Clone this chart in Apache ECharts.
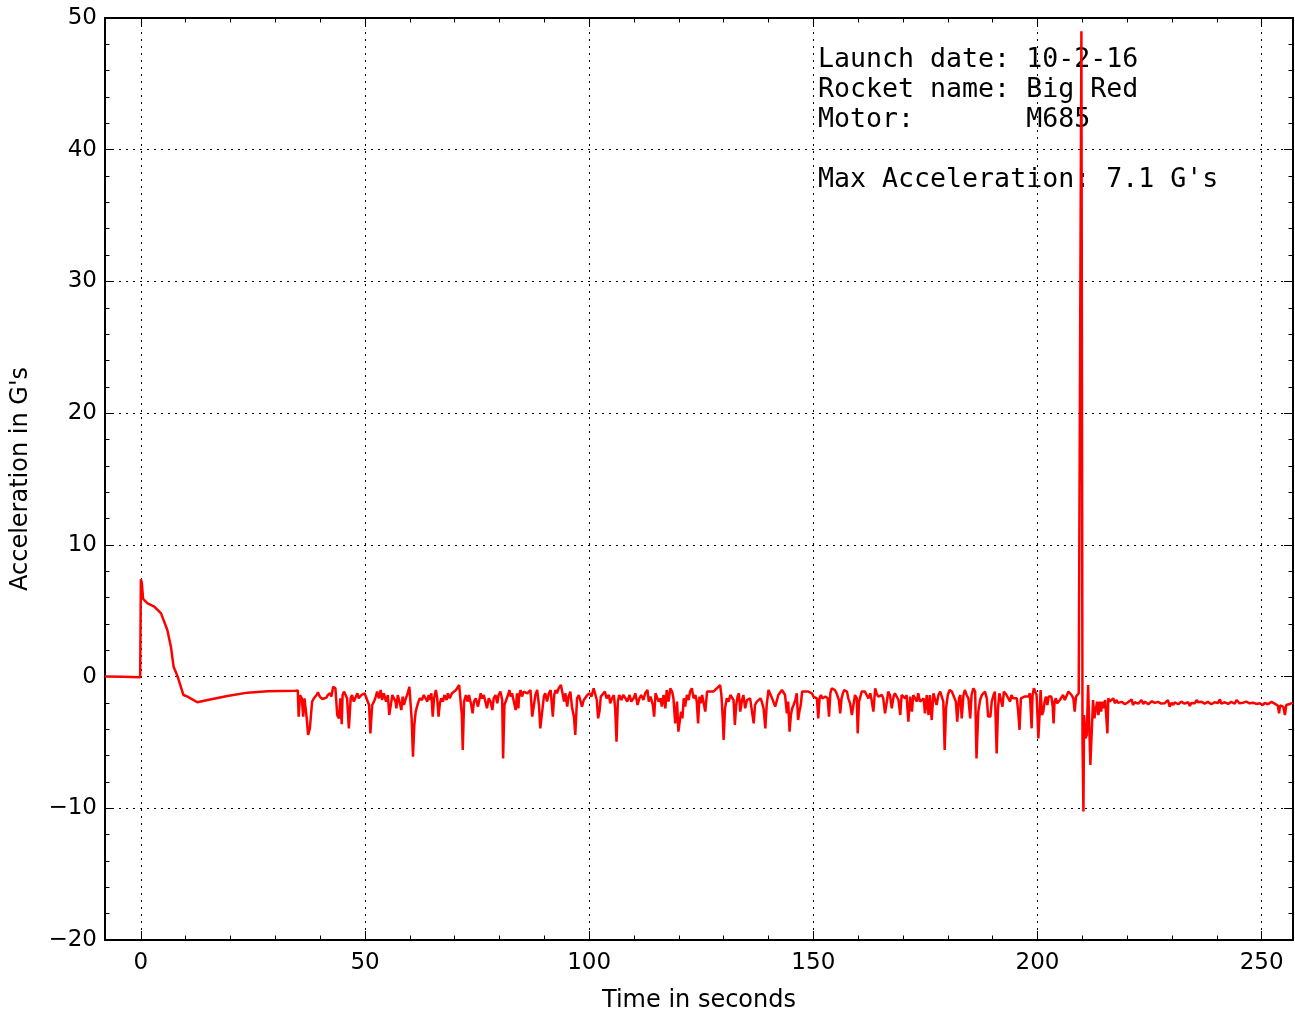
<!DOCTYPE html>
<html>
<head>
<meta charset="utf-8">
<script src="https://cdn.jsdelivr.net/npm/echarts@6/dist/echarts.min.js"></script>
<style>html,body{margin:0;padding:0;background:#fff}#chart{width:1295px;height:1011px}</style>
</head>
<body>
<div id="chart"></div>
<script>
// ---- Data (time in s, acceleration in G's) ----
const padBoost = [[-8,0],[-4,-0.02],[-0.15,-0.05],[0,7.39],[0.2,7.15],[0.5,5.9],[1.5,5.56],[3.0,5.31],[4.5,4.8],[5.9,3.54],[6.7,2.27],[7.3,0.75],[8.2,0],[9.5,-1.4],[10.4,-1.52],[12.6,-1.95],[14.9,-1.78],[19.3,-1.47],[23.8,-1.22],[28.2,-1.12],[34.5,-1.07]];
const flightA = [[35.0,-1.05],[35.2,-3.04],[35.5,-1.40],[35.9,-1.65],[36.2,-3.04],[36.5,-1.65],[37.0,-3.17],[37.3,-4.43],[37.7,-3.93],[38.2,-1.90],[38.6,-1.65],[39.2,-1.40],[39.5,-1.19],[39.9,-1.52],[40.5,-1.70],[40.8,-1.70],[41.4,-1.60],[41.7,-1.40],[42.2,-1.27],[42.5,-1.52],[42.9,-0.77],[43.4,-0.89],[43.8,-2.92],[44.2,-3.17],[44.5,-1.65],[44.8,-3.62],[45.0,-1.40],[45.3,-1.14],[45.7,-1.02],[46.0,-1.65],[46.4,-3.93],[46.8,-1.65],[47.1,-1.40],[47.5,-1.90],[47.9,-1.78],[48.3,-1.27],[48.6,-1.65],[49.2,-1.40],[49.6,-1.52],[49.9,-1.27],[50.3,-1.27],[50.9,-2.16],[51.2,-4.31],[51.6,-2.16],[52.0,-1.90],[52.4,-1.52],[52.7,-1.14],[53.1,-1.65],[53.5,-1.02],[53.8,-1.78],[54.2,-1.27],[54.7,-1.90],[55.1,-1.40],[55.4,-2.92],[55.7,-2.28],[56.1,-1.40],[56.4,-1.27],[56.8,-1.90],[57.0,-2.41],[57.3,-1.40],[57.6,-1.78],[58.1,-2.54],[58.4,-1.52],[58.7,-2.16],[59.1,-1.65],[59.4,-1.40],[59.9,-0.77],[60.2,-0.64],[60.4,-3.17],[60.7,-6.08],[61.0,-3.67],[61.3,-2.66],[61.8,-2.03],[62.2,-1.65],[62.7,-1.78],[63.1,-1.40],[63.5,-1.27],[63.9,-1.90],[64.2,-1.40],[64.5,-1.78],[64.8,-1.27],[65.1,-3.04],[65.4,-1.65],[65.8,-1.02],[66.1,-1.65],[66.4,-3.04],[66.7,-2.03],[67.0,-1.65],[67.4,-1.90],[67.7,-1.40],[68.2,-1.78],[68.5,-1.27],[68.9,-1.65],[69.4,-1.27],[69.8,-1.14],[70.3,-1.02],[70.6,-1.14],[71.0,-0.64],[71.3,-0.51],[71.6,-2.92],[71.8,-5.57],[72.1,-1.90],[72.5,-1.40],[72.9,-1.90],[73.2,-1.40],[73.7,-2.16],[74.0,-2.79],[74.3,-1.90],[74.7,-1.65],[75.2,-2.28]];
const flightB = [[75.8,-1.27],[76.1,-1.65],[76.5,-1.40],[76.9,-1.27],[77.2,-2.41],[77.6,-1.65],[78.0,-1.90],[78.4,-2.54],[78.7,-1.65],[79.1,-1.40],[79.5,-2.03],[79.8,-1.40],[80.2,-1.14],[80.6,-1.78],[80.8,-6.21],[81.1,-2.16],[81.5,-1.78],[81.9,-1.40],[82.2,-1.02],[82.5,-1.52],[82.8,-1.27],[83.2,-1.40],[83.6,-2.54],[83.9,-1.27],[84.2,-2.41],[84.4,-1.40],[84.7,-1.02],[85.0,-1.52],[85.4,-1.14],[85.8,-1.02],[86.2,-1.27],[86.5,-1.14],[86.9,-1.02],[87.3,-3.04],[87.6,-3.04],[88.0,-1.40],[88.4,-1.02],[88.8,-2.16],[89.1,-3.93],[89.5,-3.80],[89.9,-1.52],[90.2,-1.27],[90.6,-1.90],[91.0,-1.27],[91.4,-1.02],[91.9,-3.04],[92.2,-1.40],[92.5,-1.02],[92.8,-1.27],[93.2,-0.89],[93.7,-0.64],[94.1,-0.77],[94.4,-1.90],[94.7,-1.27],[95.1,-2.28],[95.4,-1.52],[95.8,-1.14],[96.2,-2.41],[96.6,-3.04],[96.9,-4.43],[97.3,-1.65],[97.7,-1.40],[98.0,-1.27],[98.4,-2.28],[98.8,-1.78],[99.2,-1.65],[99.6,-1.40],[100.1,-1.27],[100.5,-1.52],[101.0,-0.89],[101.4,-0.77],[101.7,-1.78],[102.0,-3.17],[102.3,-2.66],[102.6,-1.52],[103.0,-1.65],[103.5,-1.14],[103.9,-1.65],[104.4,-1.40],[104.7,-2.03],[105.1,-1.65],[105.5,-1.40],[105.8,-2.41],[106.1,-4.94],[106.4,-1.90],[106.7,-1.40],[107.2,-1.78],[107.6,-1.40],[108.1,-1.65],[108.5,-1.90],[109.0,-1.40],[109.4,-1.90],[109.9,-1.65],[110.3,-1.27],[110.8,-2.16],[111.2,-1.65],[111.6,-1.40],[112.1,-1.78],[112.5,-1.27],[113.0,-1.02],[113.3,-1.90],[113.7,-1.52],[114.2,-2.16],[114.5,-3.04],[114.8,-1.27],[115.1,-1.14],[115.5,-1.90],[115.9,-1.65]];
const flightC = [[116.2,-2.28],[116.6,-1.40],[117.0,-2.41],[117.3,-1.02],[117.7,-1.90],[118.1,-0.89],[118.5,-1.14],[118.8,-1.65],[119.2,-3.55],[119.6,-1.90],[119.9,-4.18],[120.2,-4.31],[120.5,-2.66],[120.8,-3.17],[121.1,-1.65],[121.4,-2.28],[121.8,-1.40],[122.2,-1.78],[122.5,-1.14],[122.9,-0.89],[123.3,-1.65],[123.7,-1.40],[124.0,-1.90],[124.3,-3.55],[124.6,-1.52],[124.9,-2.03],[125.2,-1.40],[125.5,-1.40],[125.9,-2.66],[126.3,-1.14],[126.6,-1.27],[127.0,-1.14],[127.4,-1.02],[127.7,-1.14],[128.1,-1.02],[128.5,-0.89],[128.9,-0.77],[129.2,-0.64],[129.5,-1.40],[129.8,-3.17],[130.0,-4.81],[130.3,-2.41],[130.7,-1.65],[131.1,-1.90],[131.5,-1.40],[131.8,-1.27],[132.2,-1.78],[132.5,-3.67],[132.8,-2.16],[133.1,-1.52],[133.4,-1.27],[133.7,-2.66],[134.1,-1.78],[134.4,-1.40],[134.8,-2.41],[135.2,-1.78],[135.6,-1.90],[135.9,-1.65],[136.3,-1.52],[136.7,-3.55],[137.0,-2.16],[137.4,-1.90],[137.8,-1.78],[138.2,-1.65],[138.5,-1.90],[138.9,-2.41],[139.3,-3.93],[139.6,-2.16],[140.0,-1.02],[140.4,-1.14],[140.8,-1.65],[141.1,-1.65],[141.5,-2.28],[141.9,-2.28],[142.2,-1.40],[142.6,-1.27],[143.0,-1.02],[143.4,-0.89],[143.7,-1.40],[144.1,-2.79],[144.4,-1.90],[144.7,-4.18],[145.0,-2.92],[145.3,-2.41],[145.6,-2.16],[146.0,-1.78],[146.3,-1.27],[146.6,-3.30],[146.9,-2.66],[147.2,-2.16],[147.5,-1.14],[147.8,-1.27],[148.2,-1.14],[148.5,-1.02],[148.9,-1.14],[149.3,-1.02],[149.7,-1.27],[150.0,-1.52],[150.4,-1.65],[150.8,-1.65],[151.1,-3.17],[151.4,-1.65],[151.7,-1.40],[152.0,-1.65],[152.3,-1.52],[152.7,-1.52],[153.2,-1.65],[153.5,-3.04],[153.8,-1.27],[154.1,-0.89],[154.3,-0.77],[154.8,-1.02],[155.2,-1.27],[155.7,-1.78],[156.0,-2.79],[156.3,-1.65],[156.6,-1.27],[156.9,-1.02]];
const flightD = [[157.5,-1.14],[157.8,-1.65],[158.2,-2.03],[158.6,-2.92],[158.9,-2.92],[159.3,-1.40],[159.7,-1.65],[159.9,-4.31],[160.2,-1.90],[160.5,-1.52],[160.8,-1.14],[161.2,-1.02],[161.5,-1.14],[161.9,-1.40],[162.3,-1.65],[162.7,-1.27],[163.0,-1.78],[163.4,-2.66],[163.8,-0.89],[164.1,-1.27],[164.5,-1.52],[164.9,-1.65],[165.3,-1.40],[165.6,-1.65],[166.0,-2.79],[166.4,-1.90],[166.7,-1.14],[167.1,-1.40],[167.5,-2.41],[167.9,-1.52],[168.2,-1.27],[168.6,-1.40],[169.0,-1.78],[169.4,-2.92],[169.7,-1.40],[170.1,-1.40],[170.5,-1.65],[170.8,-1.40],[171.2,-3.42],[171.6,-1.52],[172.0,-2.66],[172.3,-1.40],[172.7,-1.52],[173.1,-1.90],[173.4,-1.27],[173.8,-1.90],[174.2,-2.03],[174.6,-1.65],[174.9,-2.79],[175.3,-1.40],[175.7,-2.92],[176.0,-1.40],[176.4,-3.30],[176.8,-1.27],[177.2,-1.40],[177.5,-2.16],[177.9,-1.40],[178.3,-1.14],[178.6,-1.02],[179.0,-1.90],[179.3,-5.57],[179.6,-2.41],[180.0,-1.40],[180.4,-1.02],[180.9,-1.14],[181.3,-1.27],[181.8,-1.90],[182.1,-3.42],[182.5,-1.65],[182.8,-1.40],[183.1,-3.17],[183.5,-1.40],[183.8,-1.02],[184.2,-1.40],[184.6,-1.65],[185.0,-3.17],[185.3,-1.40],[185.7,-0.89],[186.1,-1.14],[186.4,-6.21],[186.8,-2.66],[187.2,-1.78],[187.6,-1.40],[187.9,-1.27],[188.3,-1.14],[188.7,-1.65],[189.0,-3.04],[189.5,-3.04],[189.8,-1.90],[190.2,-1.40],[190.5,-1.14],[190.9,-5.83],[191.2,-2.41],[191.5,-1.27],[191.8,-1.40],[192.2,-2.28],[192.5,-1.14],[192.8,-1.02],[193.1,-1.40],[193.5,-1.27],[193.9,-1.90],[194.2,-1.40],[194.6,-1.65],[195.0,-1.52],[195.4,-1.65],[195.7,-2.66],[196.0,-4.05],[196.3,-1.65],[196.6,-1.52],[197.1,-1.52],[197.5,-1.40],[198.0,-1.52],[198.3,-1.27]];
const deployment = [[198.7,-3.93],[198.9,-1.40],[199.2,-0.89],[199.5,-1.14],[199.8,-1.40],[200.0,-2.92],[200.2,-4.69],[200.5,-2.66],[200.7,-1.02],[201.0,-2.92],[201.3,-2.66],[201.6,-1.90],[201.9,-1.52],[202.2,-2.16],[202.5,-1.52],[202.8,-1.40],[203.1,-1.52],[203.4,-2.28],[203.6,-3.55],[203.8,-1.90],[204.1,-1.65],[204.4,-2.03],[204.7,-1.90],[205.0,-1.78],[205.4,-1.90],[205.7,-1.40],[206.1,-1.78],[206.5,-1.65],[206.9,-1.14],[207.2,-1.14],[207.6,-1.40],[208.0,-1.65],[208.3,-2.66],[208.6,-1.52],[208.9,-1.40],[209.2,-1.27],[209.5,-1.14],[209.65,-1.14],[209.8,49.0],[210.05,-4.94],[210.25,-10.25],[210.4,-2.92],[210.7,-4.69],[211.0,-4.43],[211.3,-0.64],[211.5,-3.17],[211.8,-6.71],[212.1,-6.59],[212.4,-1.78],[212.7,-3.17],[213.0,-3.17],[213.3,-1.90],[213.6,-2.92],[213.9,-1.90],[214.2,-2.66],[214.5,-1.90],[214.8,-2.41],[215.1,-1.78],[215.4,-1.65],[215.6,-4.31],[215.8,-1.65]];
const landed = [[216.1,-1.90],[216.5,-2.05],[216.9,-1.65],[217.3,-2.03],[217.6,-1.78],[218.0,-2.0],[218.4,-2.03],[218.8,-1.92],[219.1,-1.98],[219.5,-2.1],[219.9,-2.08],[220.2,-1.95],[220.6,-1.90],[221.0,-1.73],[221.3,-2.16],[221.7,-1.95],[222.1,-1.90],[222.5,-2.05],[222.8,-2.03],[223.2,-1.78],[223.6,-2.08],[224.0,-1.9],[224.3,-1.93],[224.7,-2.1],[225.1,-2.03],[225.5,-1.88],[225.8,-1.83],[226.2,-2.0],[226.5,-2.08],[226.9,-1.92],[227.3,-1.98],[227.6,-2.05],[228.0,-1.90],[228.4,-2.02],[228.8,-2.08],[229.1,-1.78],[229.5,-2.28],[229.9,-2.0],[230.3,-2.16],[230.6,-1.95],[231.0,-1.98],[231.4,-2.1],[231.7,-2.08],[232.1,-1.9],[232.5,-1.93],[232.8,-2.05],[233.2,-2.08],[233.6,-1.95],[234.0,-2.23],[234.3,-2.0],[234.7,-1.90],[235.1,-2.02],[235.5,-1.78],[235.8,-1.95],[236.2,-2.03],[236.6,-1.92],[236.9,-1.90],[237.3,-2.05],[237.7,-2.08],[238.0,-1.92],[238.4,-1.98],[238.8,-2.1],[239.2,-2.03],[239.5,-1.95],[239.9,-1.90],[240.3,-2.0],[240.7,-1.73],[241.0,-2.05],[241.4,-2.08],[241.8,-1.95],[242.1,-1.90],[242.5,-2.08],[242.9,-2.03],[243.2,-1.92],[243.6,-1.98],[244.0,-2.05],[244.4,-1.78],[244.7,-1.65],[245.1,-2.03],[245.5,-2.1],[245.9,-1.98],[246.2,-1.92],[246.6,-1.90],[247.0,-2.05],[247.3,-2.03],[247.7,-1.95],[248.1,-1.98],[248.4,-2.1],[248.8,-2.08],[249.2,-1.95],[249.6,-2.03],[249.9,-2.12],[250.3,-2.16],[250.7,-2.0],[251.1,-1.98],[251.4,-2.1],[251.8,-2.03],[252.2,-1.92],[252.6,-1.90],[252.9,-2.05],[253.3,-2.03],[253.6,-2.2],[253.9,-2.79],[254.1,-2.2],[254.4,-2.16],[254.8,-2.28],[255.2,-2.92],[255.5,-2.16],[255.9,-2.1],[256.3,-2.08],[256.6,-2.0],[257.0,-1.98]];

const xMajorTicks = [0, 50, 100, 150, 200, 250];
const xMinorTicks = [0,10,20,30,40,50,60,70,80,90,100,110,120,130,140,150,160,170,180,190,200,210,220,230,240,250];
const annotationLines = ["Launch date: 10-2-16", "Rocket name: Big Red", "Motor:       M685", "", "Max Acceleration: 7.1 G's"];
const xTitle = "Time in seconds";
const yTitle = "Acceleration in G's";

const allData = [].concat(padBoost, flightA, flightB, flightC, flightD, deployment, landed);

const FONT = 'DejaVu Sans';
const dotted = { color: '#000', width: 1, type: [2, 5] };
const axisLine = { show: true, onZero: false, lineStyle: { color: '#000', width: 2 } };

function xAxisBase(extra) {
  return Object.assign({
    type: 'value', min: -8, max: 257,
    axisLine: axisLine,
    axisLabel: { show: false },
    axisTick: { show: false },
    splitLine: { show: false }
  }, extra);
}
function yAxisBase(extra) {
  return Object.assign({
    type: 'value', min: -20, max: 50, interval: 10,
    axisLine: axisLine,
    axisLabel: { show: false },
    axisTick: { show: true, inside: true, length: 9, lineStyle: { color: '#000', width: 1 } },
    minorTick: { show: true, splitNumber: 5, length: 4.5, lineStyle: { color: '#000', width: 1 } },
    splitLine: { show: false }
  }, extra);
}

const chart = echarts.init(document.getElementById('chart'), null, { renderer: 'canvas' });
chart.setOption({
  animation: false,
  backgroundColor: '#fff',
  grid: { left: 105, right: 2, top: 18, bottom: 71, containLabel: false, outerBoundsMode: 'none' },
  xAxis: [
    xAxisBase({
      position: 'bottom',
      name: xTitle, nameLocation: 'middle', nameGap: 49,
      nameTextStyle: { fontFamily: FONT, fontSize: 24, color: '#000' },
      axisLabel: { show: true, customValues: xMajorTicks, margin: 12, fontFamily: FONT, fontSize: 23, color: '#000' },
      axisTick: { show: true, inside: true, length: 9, customValues: xMajorTicks, lineStyle: { color: '#000', width: 1 } },
      splitLine: { show: true, lineStyle: dotted }
    }),
    xAxisBase({
      position: 'bottom', axisLine: { show: false, onZero: false },
      axisTick: { show: true, inside: true, length: 4.5, customValues: xMinorTicks, lineStyle: { color: '#000', width: 1 } }
    }),
    xAxisBase({
      position: 'top',
      axisTick: { show: true, inside: true, length: 9, customValues: xMajorTicks, lineStyle: { color: '#000', width: 1 } }
    }),
    xAxisBase({
      position: 'top', axisLine: { show: false, onZero: false },
      axisTick: { show: true, inside: true, length: 4.5, customValues: xMinorTicks, lineStyle: { color: '#000', width: 1 } }
    })
  ],
  yAxis: [
    yAxisBase({
      position: 'left',
      name: yTitle, nameLocation: 'middle', nameGap: 72, nameRotate: 90,
      nameTextStyle: { fontFamily: FONT, fontSize: 24, color: '#000' },
      axisLabel: { show: true, margin: 8, fontFamily: FONT, fontSize: 23, color: '#000',
        formatter: v => String(v).replace('-', '\u2212') },
      splitLine: { show: true, lineStyle: dotted }
    }),
    yAxisBase({ position: 'right' })
  ],
  graphic: [{
    type: 'text', left: 818, top: 45, z: 1, silent: true,
    style: {
      text: annotationLines.join('\n'),
      fontFamily: 'DejaVu Sans Mono', fontSize: 26.6, lineHeight: 30,
      fill: '#000'
    }
  }],
  series: [{
    type: 'line', xAxisIndex: 0, yAxisIndex: 0,
    data: allData, showSymbol: false, symbol: 'none', smooth: false,
    lineStyle: { color: '#ff0000', width: 2.5 }, z: 5, clip: true
  }]
});
</script>
</body>
</html>
